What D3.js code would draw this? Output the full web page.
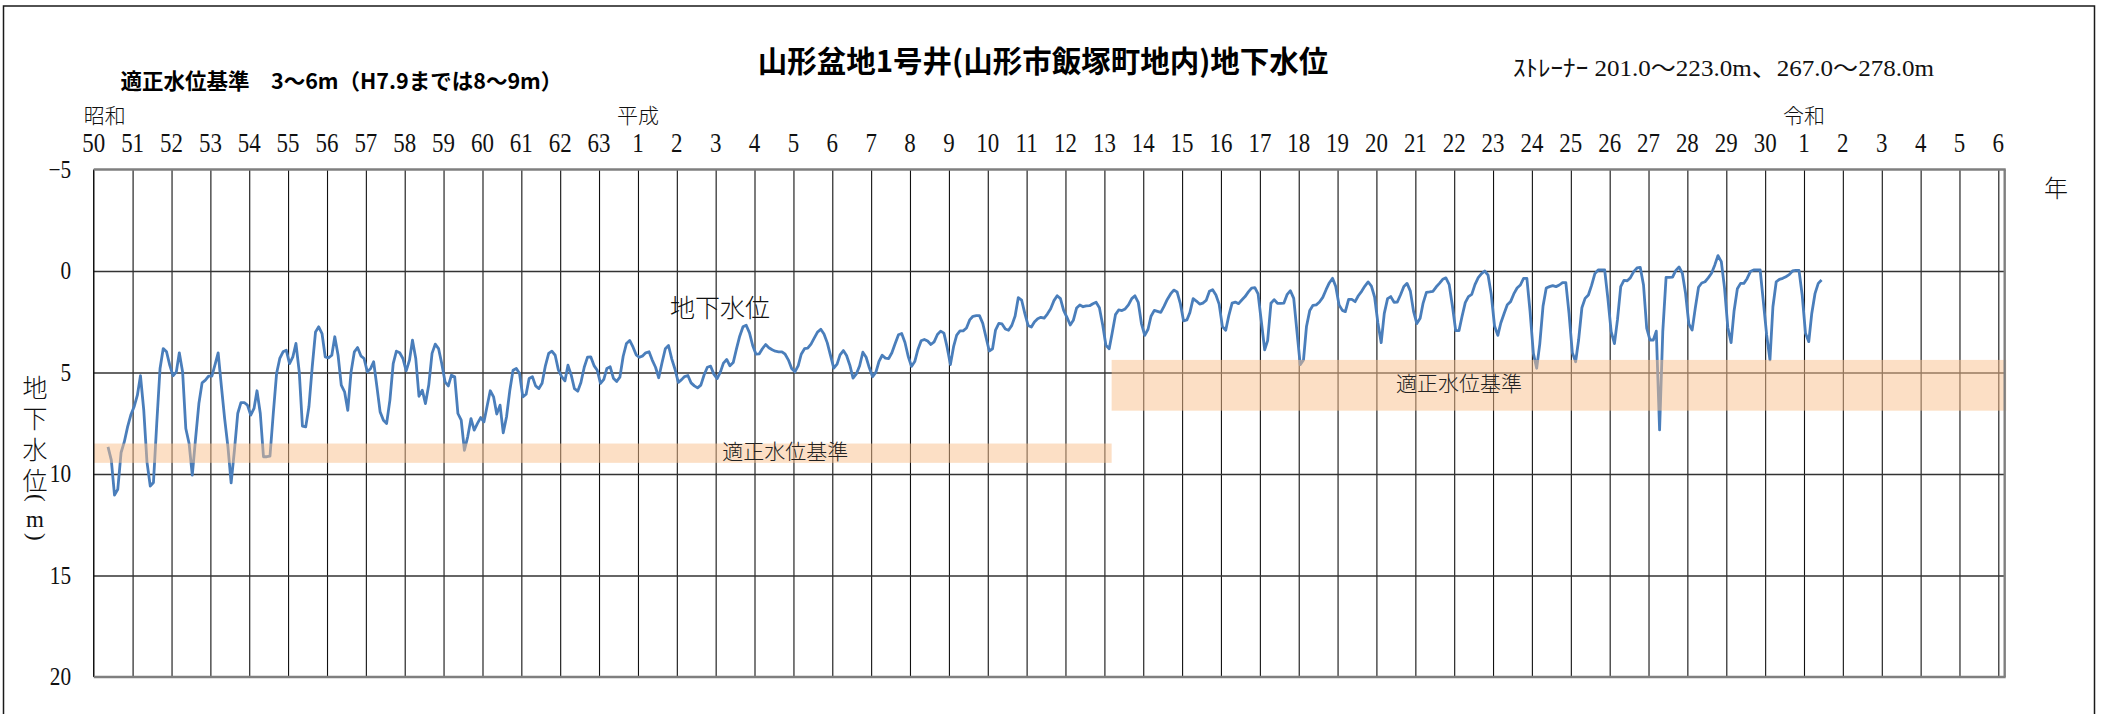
<!DOCTYPE html>
<html><head><meta charset="utf-8">
<script src="https://cdn.jsdelivr.net/npm/d3@7"></script>
<style>body{margin:0;background:#fff}svg{display:block}</style>
</head><body>
<svg id="c" width="2105" height="714"></svg>
<script>
// ---- data ----
const startYear = 1975, startMonth = 5; // first monthly reading: May, Showa 50
const levels1975 = [8.66, 9.32, 11.04, 10.75, 8.94, 8.42, 7.68, 7.1, 6.69, 6.12,
 5.16, 6.86, 9.4, 10.6, 10.42, 7.51, 4.8, 3.82, 3.98, 4.64,
 5.16, 4.97, 4.03, 4.97, 7.76, 8.5, 10.06, 8.25, 6.53, 5.51,
 5.38, 5.18, 5.18, 4.59, 4.03, 5.71, 7.27, 8.66, 10.44, 8.83,
 7.02, 6.48, 6.48, 6.61, 7.1, 6.77, 5.9, 7.02, 9.15, 9.15,
 9.12, 7.02, 5.05, 4.31, 3.98, 3.9, 4.56, 4.23, 3.57, 4.97,
 7.64, 7.68, 6.69, 4.72, 3.0, 2.75, 3.08, 4.23, 4.28, 4.15,
 3.24, 4.15, 5.62, 5.95, 6.86, 4.97, 3.98, 3.77, 4.18, 4.31,
 4.97, 4.8, 4.47, 5.71, 6.94, 7.35, 7.51, 6.36, 4.56, 3.95,
 4.03, 4.31, 4.92, 4.39, 3.41, 4.31, 6.17, 5.87, 6.53, 5.62,
 4.06, 3.6, 3.82, 4.56, 5.46, 5.66, 5.13, 5.21, 7.02, 7.35,
 8.83, 8.17, 7.27, 7.84, 7.51, 7.22, 7.43, 6.61, 5.9, 6.2,
 7.05, 6.61, 7.97, 7.18, 5.87, 4.89, 4.8, 5.05, 6.2, 6.07,
 5.3, 5.21];
const levels1986 = [5.66, 5.79, 5.53, 4.67, 4.06, 3.95, 4.15, 4.87, 5.2, 5.41,
 4.64, 5.13, 5.8, 5.92, 5.49, 4.74, 4.24, 4.23, 4.66, 4.89,
 5.54, 5.34, 4.8, 4.72, 5.28, 5.44, 5.23, 4.2, 3.57, 3.42,
 3.74, 4.13, 4.25, 4.18, 4.03, 3.98, 4.39, 4.74, 5.26, 4.52,
 3.83, 3.67, 4.34, 4.84, 5.49, 5.35, 5.2, 5.15, 5.51, 5.66,
 5.76, 5.62, 5.11, 4.74, 4.69, 5.08, 5.3, 4.97, 4.54, 4.36,
 4.67, 4.51, 3.85, 3.21, 2.75, 2.67, 3.05, 3.67, 4.1, 4.08,
 3.83, 3.62, 3.78, 3.88, 3.95, 3.98, 3.98, 4.1, 4.39, 4.8,
 4.97, 4.66, 4.1, 3.83, 3.8, 3.6, 3.31, 3.01, 2.87, 3.1,
 3.54, 4.16, 4.79, 4.59, 4.13, 3.92, 4.16, 4.64, 5.28, 5.07,
 4.67, 4.0, 4.25, 4.77, 5.21, 4.98, 4.47, 4.15, 4.29, 4.31,
 4.03, 3.57, 3.14, 3.08, 3.52, 4.2, 4.7, 4.46, 3.88, 3.44,
 3.37, 3.45, 3.62, 3.49, 3.13, 2.96, 3.06, 3.75, 4.61, 3.7,
 3.16, 2.95, 2.95];
const levels1997 = [2.81, 2.41, 2.23, 2.2, 2.2, 2.58, 3.25, 3.94, 3.83, 2.91,
 2.58, 2.61, 2.86, 2.92, 2.68, 2.22, 1.31, 1.43, 2.09, 2.68,
 2.76, 2.51, 2.35, 2.28, 2.32, 2.12, 1.86, 1.46, 1.22, 1.36,
 1.94, 2.28, 2.66, 2.43, 1.82, 1.67, 1.76, 1.72, 1.71, 1.61,
 1.54, 1.81, 2.63, 3.66, 3.83, 3.05, 2.15, 1.92, 1.95, 1.87,
 1.67, 1.36, 1.22, 1.54, 2.59, 3.17, 2.87, 2.23, 1.94, 1.99,
 2.04, 1.74, 1.4, 1.13, 0.94, 1.03, 1.59, 2.46, 2.41, 2.05,
 1.36, 1.48, 1.63, 1.58, 1.45, 1.0, 0.92, 1.18, 1.63, 2.74,
 2.92, 2.2, 1.58, 1.53, 1.61, 1.43, 1.26, 1.03, 0.84, 0.82,
 1.13, 2.5, 3.88, 3.43, 1.59, 1.41, 1.59, 1.59, 1.58, 1.15,
 0.97, 1.35, 2.96, 4.61, 4.38, 2.73, 1.94, 1.69, 1.67, 1.53,
 1.3, 0.92, 0.59, 0.36, 0.76, 1.67, 1.94, 2.0, 1.4, 1.4,
 1.51, 1.22, 1.0, 0.74, 0.54, 0.74, 1.28, 2.56, 3.53, 2.09,
 1.36, 1.26, 1.54];
const levels2008 = [1.53, 1.17, 0.76, 0.61, 0.99, 1.99, 2.59, 2.33, 1.58, 1.05,
 1.03, 1.0, 0.79, 0.61, 0.41, 0.34, 0.67, 1.71, 2.94, 2.94,
 2.25, 1.56, 1.26, 1.15, 0.67, 0.33, 0.13, 0.0, 0.2, 1.15,
 2.71, 3.17, 2.56, 2.09, 1.66, 1.51, 1.13, 0.84, 0.69, 0.36,
 0.36, 2.0, 4.06, 4.79, 3.6, 1.72, 0.84, 0.77, 0.72, 0.77,
 0.69, 0.57, 0.57, 2.09, 4.02, 4.47, 3.4, 1.81, 1.35, 1.18,
 0.71, 0.13, -0.05, -0.05, -0.05, 1.35, 2.99, 3.58, 2.41, 0.77,
 0.46, 0.48, 0.33, 0.03, -0.15, -0.18, 0.69, 2.82, 3.4, 3.4,
 2.96, 7.83, 2.99, 0.31, 0.31, 0.3, -0.03, -0.2, 0.11, 1.1,
 2.61, 2.91, 1.84, 0.8, 0.59, 0.53, 0.34, 0.11, -0.3, -0.76,
 -0.46, 0.82, 2.78, 3.53, 1.97, 0.87, 0.61, 0.61, 0.38, 0.03,
 -0.05, -0.05, -0.05, 1.51, 3.15, 4.38, 1.76, 0.53, 0.41, 0.36,
 0.28, 0.18, 0.0, -0.03, -0.03, 1.18, 3.07, 3.48, 2.09, 1.1,
 0.61, 0.44];

const yearLabels = ["50","51","52","53","54","55","56","57","58","59","60","61","62","63",
 "1","2","3","4","5","6","7","8","9","10","11","12","13","14","15","16","17","18","19","20",
 "21","22","23","24","25","26","27","28","29","30",
 "1","2","3","4","5","6"];
const firstLabelYear = 1975;
const eraNames = ["昭和", "平成", "令和"];
const eraYears = [1975, 1989, 2019];
const yTicks = [-5, 0, 5, 10, 15, 20];
const bandLow = [8.5, 4.38];
const bandHigh = [9.45, 6.88];
const bandFrom = [[1975, 1, 1], [2001, 3, 10]];
const bandTo = [[2001, 3, 10], [2024, 3, 1]];
const bandLabel = "適正水位基準";
const bandLabelAt = [[1992, 10, 15, 8.92], [2010, 2, 15, 5.55]];
const seriesName = "地下水位";
const seriesLabelAt = [1991, 2, 10, 1.8];
const title = "山形盆地1号井(山形市飯塚町地内)地下水位";
const subtitle = "適正水位基準　3～6m（H7.9までは8～9m）";
const strainer = "ｽﾄﾚｰﾅｰ 201.0～223.0m、267.0～278.0m";
const yTitleWord = "地下水位";
const yTitleUnit = ["(", "m", ")"];
const xUnit = "年";

// ---- layout ----
const svg = d3.select("#c");
const L = 93.75, R = 2004.7, T = 169.5, B = 677;
const x = d3.scaleTime().domain([new Date(1975, 0, 1), new Date(2024, 2, 1)]).range([L, R]);
const y = d3.scaleLinear().domain([-5, 20]).range([T, B]);

const levels = levels1975.concat(levels1986, levels1997, levels2008);
const series = levels.map((v, i) => ({ date: new Date(startYear, startMonth - 1 + i, 15), v }));

// outer frame
svg.append("rect").attr("x", 3.5).attr("y", 6).attr("width", 2091).attr("height", 730)
  .attr("fill", "none").attr("stroke", "#1a1a1a").attr("stroke-width", 1.5);

// vertical gridlines (each year)
const gridYears = d3.range(1976, 2025).map(yy => new Date(yy, 0, 1));
svg.append("g").attr("class", "xgrid")
  .call(d3.axisBottom(x).tickValues(gridYears).tickSize(B - T).tickFormat(""))
  .attr("transform", `translate(0,${T})`)
  .call(g => g.select(".domain").remove())
  .call(g => g.selectAll("line").attr("stroke", "#111").attr("stroke-width", 1.1));

// horizontal gridlines
svg.append("g").attr("class", "ygrid")
  .call(d3.axisLeft(y).tickValues(yTicks.slice(1, -1)).tickSize(-(R - L)).tickFormat(""))
  .attr("transform", `translate(${L},0)`)
  .call(g => g.select(".domain").remove())
  .call(g => g.selectAll("line").attr("stroke", "#333").attr("stroke-width", 1.4));

// data line
svg.append("path").datum(series)
  .attr("fill", "none").attr("stroke", "#4a7ebb").attr("stroke-width", 2.8)
  .attr("stroke-linejoin", "round")
  .attr("d", d3.line().x(d => x(d.date)).y(d => y(d.v)));

// bands (semi-transparent, drawn over)
bandLow.forEach((lo, i) => {
  const x0 = x(new Date(bandFrom[i][0], bandFrom[i][1] - 1, bandFrom[i][2]));
  const x1 = x(new Date(bandTo[i][0], bandTo[i][1] - 1, bandTo[i][2])) + (i === 1 ? 1.5 : 0);
  svg.append("rect").attr("x", x0).attr("width", x1 - x0)
    .attr("y", y(lo)).attr("height", y(bandHigh[i]) - y(lo))
    .attr("fill", "#f9c08c").attr("fill-opacity", 0.5);
});

// plot borders
svg.append("line").attr("x1", L).attr("x2", L).attr("y1", T).attr("y2", B)
  .attr("stroke", "#111").attr("stroke-width", 1.5);
svg.append("line").attr("x1", L).attr("x2", R + 1).attr("y1", T).attr("y2", T)
  .attr("stroke", "#7f7f7f").attr("stroke-width", 2.4);
svg.append("line").attr("x1", L).attr("x2", R + 1).attr("y1", B).attr("y2", B)
  .attr("stroke", "#7f7f7f").attr("stroke-width", 2.4);
svg.append("line").attr("x1", R).attr("x2", R).attr("y1", T).attr("y2", B)
  .attr("stroke", "#7f7f7f").attr("stroke-width", 2.4);

// y tick labels
const serif = "'Liberation Serif','Noto Sans CJK JP',serif";
const cjk = "'Noto Sans CJK JP','Noto Sans CJK SC',sans-serif";
svg.append("g").selectAll("text").data(yTicks).join("text")
  .attr("transform", d => `translate(71,${y(d) + 8}) scale(0.85,1)`)
  .attr("text-anchor", "end").attr("font-family", serif).attr("font-size", 25)
  .attr("fill", "#111").text(d => d < 0 ? "\u2212" + Math.abs(d) : d);

// x year labels
svg.append("g").selectAll("text").data(yearLabels).join("text")
  .attr("transform", (d, i) => `translate(${x(new Date(firstLabelYear + i, 0, 1))},152) scale(0.85,1)`)
  .attr("text-anchor", "middle").attr("font-family", serif).attr("font-size", 27)
  .attr("fill", "#111").text(d => d);

// era labels
svg.append("g").selectAll("text").data(eraNames).join("text")
  .attr("x", (d, i) => x(new Date(eraYears[i], 0, 1)) + (i === 0 ? 11 : 0))
  .attr("y", 123).attr("text-anchor", "middle")
  .attr("font-family", cjk).attr("font-size", 21).attr("font-weight", 300)
  .attr("fill", "#111").text(d => d);

// title
svg.append("text").attr("x", 1043).attr("y", 72).attr("text-anchor", "middle")
  .attr("font-family", cjk).attr("font-weight", "bold").attr("font-size", 29.5)
  .attr("fill", "#000").text(title);
svg.append("text").attr("x", 120.5).attr("y", 89).attr("text-anchor", "start")
  .attr("font-family", cjk).attr("font-weight", "bold").attr("font-size", 21.5)
  .attr("fill", "#000").text(subtitle);
svg.append("text").attr("x", 1513).attr("y", 76).attr("text-anchor", "start")
  .attr("font-family", serif).attr("font-size", 23)
  .attr("textLength", 421).attr("lengthAdjust", "spacingAndGlyphs")
  .attr("fill", "#111").text(strainer);

// series label
svg.append("text")
  .attr("x", x(new Date(seriesLabelAt[0], seriesLabelAt[1] - 1, seriesLabelAt[2])))
  .attr("y", y(seriesLabelAt[3]) + 9).attr("text-anchor", "middle")
  .attr("font-family", cjk).attr("font-size", 25).attr("font-weight", 300)
  .attr("fill", "#111").text(seriesName);

// band labels
svg.append("g").selectAll("text").data(bandLabelAt).join("text")
  .attr("x", d => x(new Date(d[0], d[1] - 1, d[2])))
  .attr("y", d => y(d[3]) + 7).attr("text-anchor", "middle")
  .attr("font-family", cjk).attr("font-size", 21).attr("font-weight", 300)
  .attr("fill", "#222").text(bandLabel);

// y-axis title: vertical run for the word, then the unit
svg.append("text").attr("x", 35).attr("y", 374.5)
  .attr("writing-mode", "vertical-rl").attr("letter-spacing", 6.3)
  .attr("font-family", cjk).attr("font-size", 25).attr("font-weight", 300)
  .attr("fill", "#111").text(yTitleWord);
const unitY = [498, 521, 537];
const ut = svg.append("text").attr("fill", "#111").attr("font-family", serif).attr("font-size", 23);
yTitleUnit.forEach((ch, i) => {
  const t = ut.append("tspan").text(ch);
  if (ch === "m") t.attr("x", 26).attr("y", unitY[i] + 6);
  else t.attr("x", 29.2).attr("y", unitY[i] - 4).attr("rotate", 90);
});

// unit label
svg.append("text").attr("x", 2056).attr("y", 197).attr("text-anchor", "middle")
  .attr("font-family", cjk).attr("font-size", 24).attr("font-weight", 300)
  .attr("fill", "#111").text(xUnit);
</script>
</body></html>
